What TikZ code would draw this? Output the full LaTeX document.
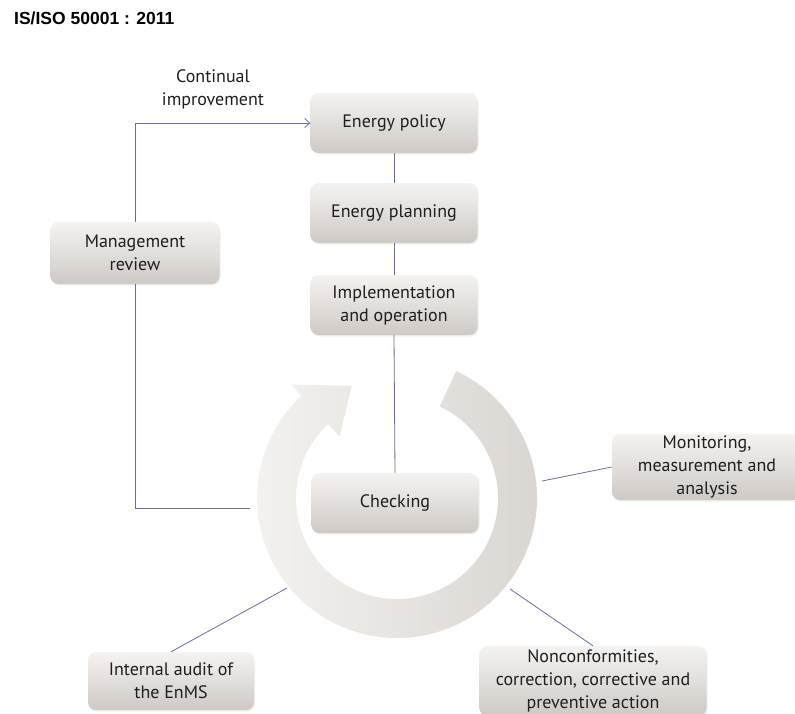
\documentclass[tikz,border=0pt]{standalone}
\usepackage{fontspec}
\setmainfont{PT Sans}
\newfontfamily\titlefont{Liberation Sans}
\usetikzlibrary{arrows.meta,shadows}
\definecolor{linec}{RGB}{100,112,160}
\definecolor{boxtop}{RGB}{245,243,241}
\definecolor{boxbot}{RGB}{206,201,197}
\definecolor{txt}{RGB}{30,30,30}
\definecolor{ringA}{RGB}{244,242,240}
\definecolor{ringB}{RGB}{216,212,208}
\begin{document}
\begin{tikzpicture}[x=1pt,y=-1pt,
  boxstyle/.style={rounded corners=8pt, minimum width=167pt, minimum height=60pt,
    align=center, inner sep=0pt, top color=boxtop, bottom color=boxbot,
    font=\fontsize{18}{23}\selectfont, text=txt,
    drop shadow={opacity=0.12, shadow xshift=1pt, shadow yshift=-1.5pt}},
  conn/.style={draw=linec, line width=0.8pt}]
\useasboundingbox (0,0) rectangle (795,713);

% title
\node[anchor=west, font=\titlefont\bfseries\fontsize{17.5}{20}\selectfont, inner sep=0pt] (title) at (14,18) {IS/ISO 50001 : 2011};

% ring arrow
\begin{scope}[shift={(397,498)}]
  \shade[left color=ringA, right color=ringB]
    (-65:140) arc[start angle=-65, end angle=227, radius=140]
    -- (227:155) -- (248:121) -- (227:84) -- (227:101)
    arc[start angle=227, end angle=-65, radius=101] -- cycle;
\end{scope}

% connection points on ring
\coordinate (ringL) at (250,508);
\coordinate (ringR) at (542,481);
\coordinate (ringBL) at (287,588);
\coordinate (ringBR) at (510,589);

% boxes
\node[boxstyle] (policy) at (394,123) {Energy policy};
\node[boxstyle] (planning) at (394,213) {Energy planning};
\node[boxstyle] (impl) at (394,305) {Implementation\\and operation};
\node[boxstyle, minimum width=169pt, minimum height=62pt] (mgmt) at (135,253) {Management\\review};
\node[boxstyle] (check) at (395,503) {Checking};
\node[boxstyle, minimum width=190pt, minimum height=66pt] (monit) at (707,467) {Monitoring,\\measurement and\\analysis};
\node[boxstyle, minimum width=166pt, minimum height=58pt] (audit) at (171,681) {Internal audit of\\the EnMS};
\node[boxstyle, minimum width=227pt, minimum height=70pt] (nonc) at (593,681) {Nonconformities,\\correction, corrective and\\preventive action};

% label
\node[align=center, font=\fontsize{18}{23}\selectfont, text=txt, inner sep=0pt] (ci) at (213,89) {Continual\\improvement};

% connectors
\draw[conn, -{Straight Barb[length=5pt,width=9pt]}] (mgmt.north) |- (policy.west);
\draw[conn] (mgmt.south) |- (ringL);
\draw[conn] (policy) -- (planning);
\draw[conn] (planning) -- (impl);
\draw[conn] (impl.south) -- (check.north);
\draw[conn] (ringR) -- (monit.west);
\draw[conn] (ringBL) -- (audit.north);
\draw[conn] (ringBR) -- (nonc.north);
\end{tikzpicture}
\end{document}
